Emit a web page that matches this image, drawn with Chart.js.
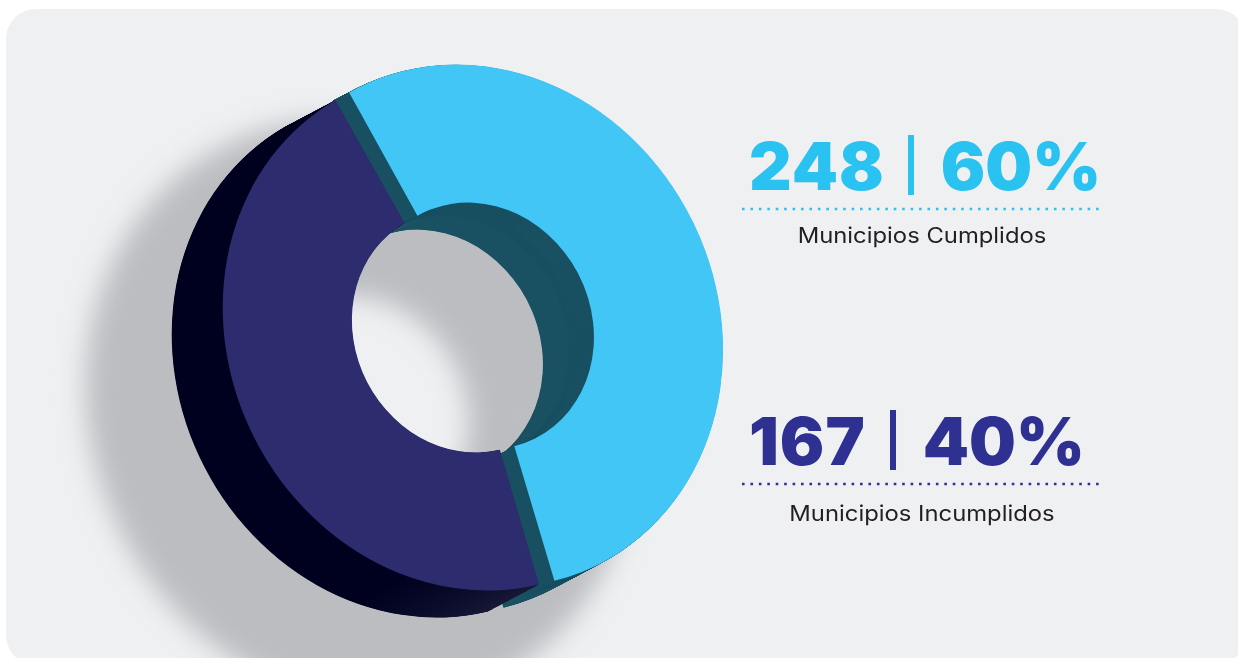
<!DOCTYPE html>
<html lang="es">
<head>
<meta charset="utf-8">
<title>Municipios</title>
<script src="https://cdn.jsdelivr.net/npm/chart.js@4"></script>
<style>
    html, body { margin: 0; padding: 0; background: #fff; }
    body { width: 1238px; height: 658px; position: relative; overflow: hidden; font-family: Inter, sans-serif; }
    #panel { position: absolute; left: 6px; top: 9px; width: 1240px; height: 656px; background: #eff0f2; border-radius: 30px; overflow: hidden; }
    #chart { position: absolute; left: -6px; top: -9px; }
    .big { position: absolute; left: 749px; font-weight: 900; font-size: 66px; line-height: 66px; white-space: nowrap; }
    .big .count { letter-spacing: 1px; }
    .big .bar { display: inline-block; width: 6px; height: 60px; vertical-align: -5px; }
    .dots { position: absolute; left: 742px; }
    .sub { position: absolute; left: 742px; width: 360px; text-align: center; color: #231f20; font-size: 21.5px; line-height: 26px; white-space: nowrap; transform: scaleX(1.108); }
</style>
</head>
<body>
<div id="panel"><canvas id="chart" width="1238" height="658"></canvas></div>
<div id="texts"></div>
<script>
// Datos
const labels = ['Municipios Cumplidos', 'Municipios Incumplidos'];
const counts = [248, 167];
const percents = ['60%', '40%'];
// Reparto tal como está dibujado en la imagen (el arco azul mide unos 194°, no 216°)
const drawnShares = [54, 46];
const frontColors = ['#41c6f5', '#2c2c6e'];
const textColors = ['#2ac2f0', '#2e3192'];

// Textos
const textTops = [133, 408];
const barMargins = [[23, 27], [24, 27]];
const dotTops = [207, 482];
const subTops = [222, 500];
const texts = document.getElementById('texts');
labels.forEach((label, i) => {
    texts.insertAdjacentHTML('beforeend', `
        <div class="big" style="top:${textTops[i]}px;color:${textColors[i]}"><span class="count">${counts[i]}</span><span class="bar" style="background:${textColors[i]};margin:0 ${barMargins[i][1]}px 0 ${barMargins[i][0]}px"></span>${percents[i]}</div>
        <svg class="dots" style="top:${dotTops[i]}px" width="358" height="4"><line x1="0" y1="2" x2="358" y2="2" stroke="${textColors[i]}" stroke-width="2.6" stroke-dasharray="2.6 5.83"/></svg>
        <div class="sub" style="top:${subTops[i]}px">${label}</div>`);
});

// --- Efecto 3D ---
const stretchY = 1.12;
const stretchTilt = -27 * Math.PI / 180;
const depthX = -51;
const depthY = 27;

function ghost(arc, color, offset) {
    const g = Object.create(arc);
    g.options = {
        backgroundColor: color, borderColor: color, borderWidth: 0, borderRadius: 0,
        borderAlign: 'center', borderJoinStyle: 'round', circular: true, spacing: 0,
        offset: offset === undefined ? arc.options.offset : offset
    };
    return g;
}

function stretch(ctx, chart) {
    const cx = (chart.chartArea.left + chart.chartArea.right) / 2;
    const cy = (chart.chartArea.top + chart.chartArea.bottom) / 2;
    ctx.translate(cx, cy);
    ctx.rotate(stretchTilt);
    ctx.scale(1, stretchY);
    ctx.rotate(-stretchTilt);
    ctx.translate(-cx, -cy);
}

const depthPlugin = {
    id: 'depth',
    beforeDatasetsDraw(chart) {
        const ctx = chart.ctx;
        const arcs = chart.getDatasetMeta(0).data;

        // sombra sobre el panel: un solo anillo para que no se note la unión
        ctx.save();
        ctx.filter = 'blur(13px)';
        ctx.translate(-112, 84);
        stretch(ctx, chart);
        const ring = ghost(arcs[0], '#bcbdc1', 0);
        ring.outerRadius = arcs[0].outerRadius + 36;
        ring.startAngle = 0;
        ring.endAngle = Math.PI * 2 - 0.001;
        ring.circumference = Math.PI * 2 - 0.001;
        ring.draw(ctx);
        ctx.restore();

        // pared azul primero, la oscura encima
        const tealGrad = ctx.createRadialGradient(510, 310, 0, 510, 310, 175);
        tealGrad.addColorStop(0, '#195062');
        tealGrad.addColorStop(0.62, '#195062');
        tealGrad.addColorStop(0.8, '#3a6272');
        tealGrad.addColorStop(1, '#195062');
        const darkGrad = ctx.createLinearGradient(400, 600, 540, 610);
        darkGrad.addColorStop(0, '#00001f');
        darkGrad.addColorStop(1, '#181a38');
        arcs.forEach((arc, i) => {
            ctx.save();
            if (i === 0) {
                // la pared azul no asoma por arriba a la izquierda
                ctx.beginPath();
                ctx.rect(333, 0, 905, 658);
                ctx.clip();
            }
            for (let s = 102; s >= 1; s--) {
                ctx.save();
                ctx.translate(depthX * s / 102, depthY * s / 102);
                stretch(ctx, chart);
                // la franja entre porciones queda oscura, solo el fondo del hueco se aclara
                const wall = i === 1 ? darkGrad : (s > 50 ? tealGrad : '#195062');
                ghost(arc, wall).draw(ctx);
                ctx.restore();
            }
            ctx.restore();
        });

        // la cara frontal la dibuja Chart.js con el mismo estirado
        ctx.save();
        stretch(ctx, chart);
    },
    afterDatasetsDraw(chart) {
        chart.ctx.restore();
    }
};

new Chart(document.getElementById('chart').getContext('2d'), {
    type: 'doughnut',
    data: {
        labels: labels,
        datasets: [{
            data: drawnShares,
            backgroundColor: frontColors,
            borderWidth: 0,
            offset: 28
        }]
    },
    options: {
        responsive: false,
        animation: false,
        rotation: -29.5,
        radius: 231.4,
        cutout: '45.6%',
        layout: { padding: { left: 149, right: 443, top: 5.5, bottom: 6.5 } },
        plugins: { legend: { display: false }, tooltip: { enabled: false } }
    },
    plugins: [depthPlugin]
});
</script>
</body>
</html>
